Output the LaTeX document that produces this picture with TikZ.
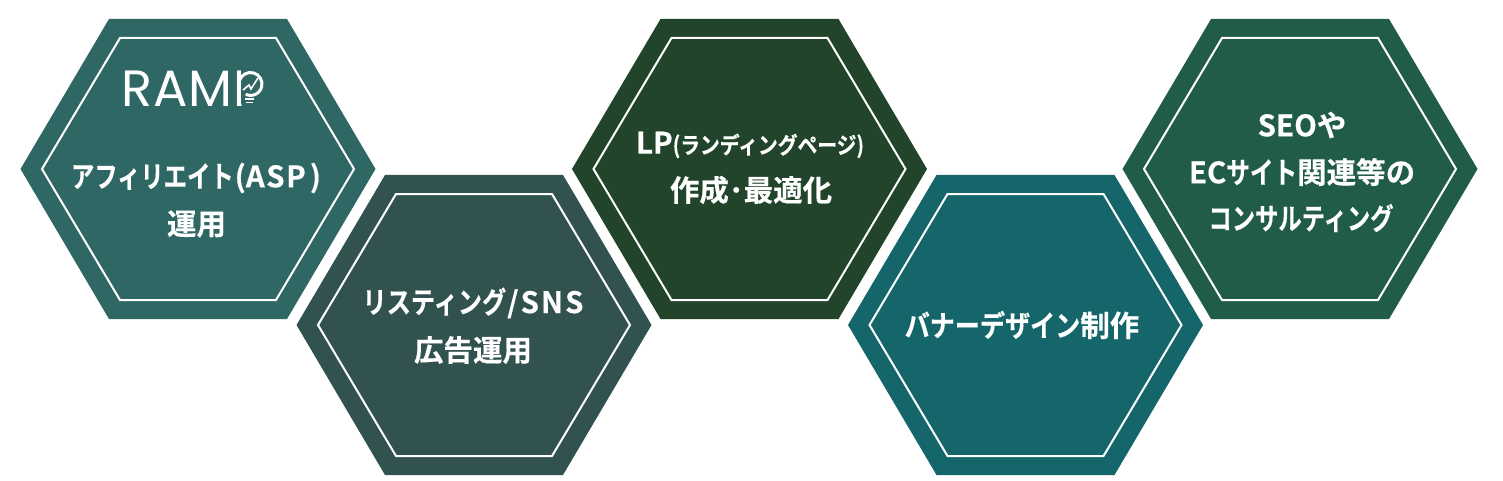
\documentclass[tikz,border=0pt]{standalone}
\usepackage{fontspec}
\setmainfont{Noto Sans CJK JP}[BoldFont={Noto Sans CJK JP Bold},BoldFeatures={FakeBold=0.35}]
\newfontfamily\logofont{Poppins}
\newcommand{\kn}[2][0.80]{\scalebox{#1}[1]{#2}}
\newcommand{\hexagon}[4]{%
  \begin{scope}[shift={(#1,-#2)}]
    \fill[#3] (-177.5,0) -- (-89,150) -- (89,150) -- (177.5,0) -- (89,-150) -- (-89,-150) -- cycle;
    \draw[innerline] (-156,0) -- (-78,131) -- (78,131) -- (156,0) -- (78,-131) -- (-78,-131) -- cycle;
    \coordinate (#4) at (0,0);
  \end{scope}}
\definecolor{hexa}{HTML}{2F6764}
\definecolor{hexb}{HTML}{325250}
\definecolor{hexc}{HTML}{21442A}
\definecolor{hexd}{HTML}{14666B}
\definecolor{hexe}{HTML}{215C4A}
\tikzset{
  innerline/.style={draw=white,line width=2pt,line join=miter},
  label/.style={text=white,font=\bfseries\fontsize{29.5}{30}\selectfont,inner sep=0pt,anchor=center},
  logo/.style={text=white,font=\logofont\fontsize{51}{51}\selectfont,inner sep=0pt,anchor=west},
  bulb/.style={draw=white,line width=3pt}
}
\begin{document}
\begin{tikzpicture}[x=1pt,y=1pt]
\useasboundingbox (0,0) rectangle (1503,-481);
\fill[white] (0,0) rectangle (1503,-481);
\hexagon{198}{169}{hexa}{ha}
\hexagon{474}{325}{hexb}{hb}
\hexagon{749.5}{169}{hexc}{hc}
\hexagon{1025.5}{325}{hexd}{hd}
\hexagon{1300}{169}{hexe}{he}
% logo
\node[logo] (rampw) at (121,-89) {R\kern1pt A\kern1pt M\kern1pt P};
\coordinate (bulbc) at (250.5,-84);
\fill[hexa] (240.5,-66) rectangle (272,-104);
\draw[bulb] (bulbc) ++(165:11.5) arc (165:-115:11.5);
\draw[bulb,line width=1.6pt] (243,-90) -- (249,-85) -- (251,-89) -- (258,-78);
\draw[bulb,line width=1.4pt] (245,-99) -- (254,-99) (246,-102.5) -- (253,-102.5);
% labels
\node[label] (a1) at (196,-178) {\kn[0.79]{アフィリエイト}\kern1pt(A\kern1.5pt S\kern1.5pt P\kern4pt )};
\node[label] (a2) at (196.5,-224) {運用};
\node[label] (b1) at (473,-303) {\kn[0.82]{リスティング}\kern1pt/\kern2pt S\kern2pt N\kern2pt S};
\node[label] (b2) at (473,-350) {広告運用};
\node[label] (c1) at (750,-145) {LP{\fontsize{23}{23}\selectfont\kn[0.86]{(ランディングページ)}}};
\node[label] (c2) at (751,-190) {作成･最適化};
\node[label] (d1) at (1022,-325) {\kn[0.85]{バナーデザイン}制作};
\node[label] (e1) at (1302,-125) {SEOや};
\node[label] (e2) at (1302,-172) {EC\kn[0.8]{サイト}関連等の};
\node[label] (e3) at (1301,-218) {\kn[0.79]{コンサルティング}};
\end{tikzpicture}
\end{document}
